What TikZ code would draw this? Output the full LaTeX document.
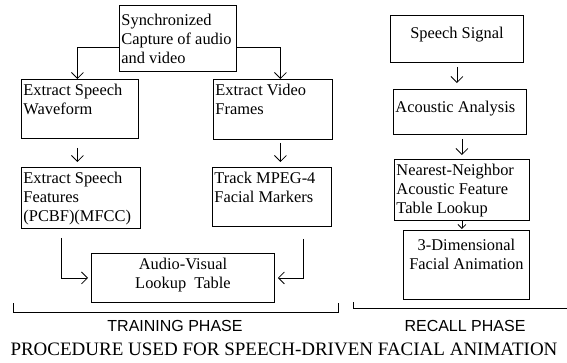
\documentclass[tikz,border=0pt]{standalone}
\usepackage{fontspec}
\setmainfont{Liberation Serif}
\setsansfont{Liberation Sans}
\usepackage{tikz}
\usetikzlibrary{arrows.meta, positioning, calc}
% text block inside a box: width, height, top pad, alignment, text
\newcommand{\boxtext}[5]{\parbox[c][#2][t]{#1}{\vspace*{#3}#4\strut #5}}

\begin{document}
\begin{tikzpicture}[
  x=1pt, y=-1pt, font=\fontsize{16.4}{19}\selectfont,
  blk/.style={rectangle, draw, line width=0.9pt, anchor=north west, inner xsep=2pt, inner ysep=3pt},
  a/.style={-{Straight Barb[length=6pt,width=12pt]}, line width=0.75pt},
  as/.style={-{Straight Barb[length=4pt,width=8pt]}, line width=0.75pt},
  phase/.style={font=\sffamily\fontsize{16}{19}\selectfont, inner sep=0pt},
  capt/.style={font=\fontsize{19}{22}\selectfont, inner sep=0pt}]
\useasboundingbox (0,0) rectangle (567,362);
% training phase
\node[blk] (sync) at (119,5) {\boxtext{113pt}{60pt}{4pt}{\raggedright}{Synchronized\\Capture of audio\\and video}};
\node[blk] (wave) at (21,79) {\boxtext{113pt}{53pt}{0pt}{\raggedright}{Extract Speech\\Waveform}};
\node[blk] (frames) at (213,79) {\boxtext{115pt}{54pt}{0pt}{\raggedright}{Extract Video\\Frames}};
\node[blk] (feat) at (21,167) {\boxtext{115pt}{55pt}{0pt}{\raggedright}{Extract Speech\\Features\\(PCBF)(MFCC)}};
\node[blk] (track) at (212,167) {\boxtext{115pt}{53pt}{0pt}{\raggedright}{Track MPEG-4\\Facial Markers}};
\node[blk] (avl) at (91,253) {\boxtext{179pt}{43pt}{0pt}{\centering}{Audio-Visual\\Lookup\ \ Table}};
% recall phase
\node[blk] (sig) at (390,15) {\boxtext{129pt}{41pt}{7pt}{\centering}{Speech Signal}};
\node[blk] (ac) at (393,89) {\boxtext{129pt}{39pt}{7pt}{\raggedright}{Acoustic Analysis}};
\node[blk] (nn) at (394,159) {\boxtext{131pt}{55pt}{0pt}{\raggedright}{Nearest-Neighbor\\Acoustic Feature\\Table Lookup}};
\node[blk] (anim) at (403,230) {\boxtext{122pt}{63pt}{4pt}{\centering}{3-Dimensional\\Facial Animation}};
% labels
\node[phase] (train) at (175,326) {TRAINING PHASE};
\node[phase] (recall) at (465,326) {RECALL PHASE};
\node[capt] (title) at (284,349) {PROCEDURE USED FOR SPEECH-DRIVEN FACIAL ANIMATION};
% connectors
\draw[a]([yshift=-9pt]sync.west)-|([xshift=-2.5pt]wave.north);
\draw[a]([yshift=-9pt]sync.east)-|([xshift=7.5pt]frames.north);
\draw[a, shorten <=9pt, shorten >=5pt]([xshift=-2.5pt]wave.south)--([xshift=-2.5pt]wave.south |- feat.north);
\draw[a, shorten <=3pt, shorten >=5pt]([xshift=7.5pt]frames.south)--([xshift=7.5pt]frames.south |- track.north);
\draw[a, shorten >=3pt]([xshift=-19.5pt]feat.south)++(0,9)|-(avl.west);
\draw[a, shorten >=3pt]([xshift=31.5pt]track.south)++(0,12)|-(avl.east);
\draw[a, shorten <=4pt, shorten >=6pt](sig.south)--(sig.south |- ac.north);
\draw[a, shorten <=4pt, shorten >=4pt](nn.north |- ac.south)--(nn.north);
\draw[as, shorten >=1pt](nn.south)--(nn.south |- anim.north);
% phase brackets
\draw[line width=0.75pt](13,303)|-(338,312)--(338,303);
\draw[line width=0.75pt](353,302)|-(567,308);
\end{tikzpicture}
\end{document}
